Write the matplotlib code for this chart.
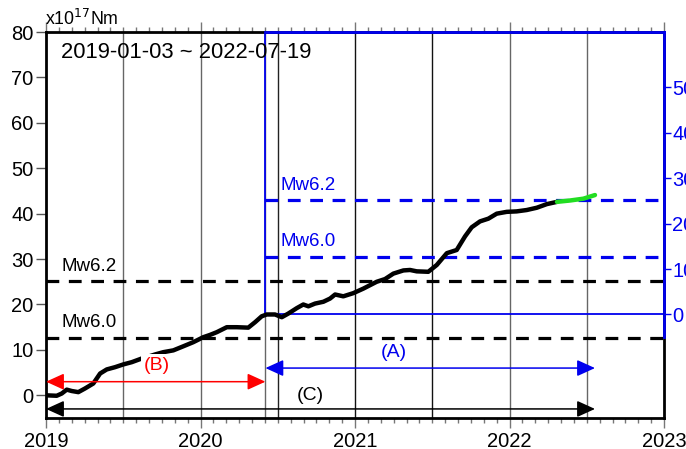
import matplotlib
matplotlib.use("Agg")
import matplotlib.pyplot as plt
import numpy as np

plt.rcParams['font.family'] = ['Liberation Sans', 'DejaVu Sans']

# Cumulative seismic moment (x10^17 Nm) against decimal year
years = [2019.000, 2019.069, 2019.102, 2019.134, 2019.166, 2019.209, 2019.252,
         2019.306, 2019.350, 2019.393, 2019.447, 2019.500, 2019.555, 2019.619,
         2019.660, 2019.706, 2019.759, 2019.824, 2019.889, 2019.953, 2020.018,
         2020.061, 2020.105, 2020.170, 2020.234, 2020.309, 2020.353, 2020.396,
         2020.428, 2020.482, 2020.526, 2020.568, 2020.623, 2020.665, 2020.698,
         2020.741, 2020.795, 2020.838, 2020.871, 2020.924, 2020.989, 2021.054,
         2021.140, 2021.194, 2021.248, 2021.313, 2021.356, 2021.399, 2021.474,
         2021.529, 2021.594, 2021.658, 2021.712, 2021.755, 2021.809, 2021.863,
         2021.917, 2021.982, 2022.046, 2022.111, 2022.176, 2022.241, 2022.307]
moment = [0.0, -0.1, 0.4, 1.25, 0.95, 0.7, 1.5,
          2.6, 4.8, 5.7, 6.2, 6.8, 7.3, 8.1,
          8.5, 9.0, 9.5, 9.9, 10.8, 11.7, 12.8,
          13.3, 13.9, 15.0, 15.0, 14.9, 16.1, 17.4,
          17.8, 17.8, 17.2, 18.0, 19.2, 20.0, 19.6,
          20.2, 20.6, 21.3, 22.2, 21.8, 22.5, 23.5,
          25.0, 25.6, 26.8, 27.5, 27.6, 27.3, 27.2,
          28.7, 31.3, 32.0, 35.0, 37.0, 38.3, 38.9,
          40.0, 40.4, 40.5, 40.8, 41.3, 42.1, 42.6]

# Most recent segment, drawn in green
recent_years = [2022.307, 2022.392, 2022.478, 2022.553]
recent_moment = [42.6, 42.9, 43.3, 44.1]

# Reference moments for Mw 6.0 / 6.2 (x10^17 Nm)
mw_labels = ['Mw6.0', 'Mw6.2']
mw_moment = [12.6, 25.1]

# Start of period (A) and moment accumulated up to it
start_a = 2020.42
base_a = 17.8
end_all = 2022.553

period_text = '2019-01-03 ~ 2022-07-19'
year_ticks = [2019, 2020, 2021, 2022, 2023]
left_ticks = [0, 10, 20, 30, 40, 50, 60, 70, 80]
right_ticks = [0, 10, 20, 30, 40, 50]
half_year_lines = [2019.5, 2020.0, 2020.5, 2021.0, 2021.5, 2022.0, 2022.5]
half_year_colors = ['#666666', '#666666', '#222222', '#111111', '#111111', '#666666', '#666666']

ymin, ymax = -5, 80
BLUE = '#0000ee'

fig = plt.figure(figsize=(6.86, 4.49), dpi=100)
ax = fig.add_axes([0.0671, 0.069, 0.9009, 0.8597])
ax.set_xlim(2019, 2023)
ax.set_ylim(ymin, ymax)

# vertical markers
for xv, c in zip(half_year_lines, half_year_colors):
    ax.axvline(xv, color=c, lw=1.0, zorder=1)
ax.axvline(start_a, color='#666666', lw=1.0, zorder=1)

# Mw reference lines (whole period)
for lab, m in zip(mw_labels, mw_moment):
    ax.plot([2019, 2023], [m, m], color='black', lw=2.3, ls=(0, (4, 3)), zorder=2)
    ax.text(2019.1, m + 1.5, lab, fontsize=13.5, color='black', va='bottom', ha='left')

# Mw reference lines relative to start of (A)
ax.plot([start_a, 2023], [base_a, base_a], color=BLUE, lw=1.3, zorder=2)
ax.plot([start_a, start_a], [base_a, ymax], color=BLUE, lw=1.3, zorder=2)
for lab, m in zip(mw_labels, mw_moment):
    ax.plot([start_a, 2023], [base_a + m, base_a + m], color=BLUE, lw=2.3,
            ls=(0, (4, 3)), zorder=2)
    ax.text(start_a + 0.1, base_a + m + 1.5, lab, fontsize=13.5, color=BLUE,
            va='bottom', ha='left')

# cumulative curve
ax.plot(years, moment, color='black', lw=3.2, solid_capstyle='round', zorder=4)
ax.plot(recent_years, recent_moment, color='#22dd22', lw=3.2,
        solid_capstyle='round', zorder=4)

# period arrows
def period_arrow(x0, x1, y, color, label, lx, ly):
    ax.annotate('', xy=(x1, y), xytext=(x0, y),
                arrowprops=dict(arrowstyle='<|-|>,head_length=1.1,head_width=0.5',
                                color=color, lw=1.1, shrinkA=0, shrinkB=0,
                                mutation_scale=10),
                zorder=5)
    ax.text(lx, ly, label, color=color, fontsize=14, ha='center', va='center',
            zorder=6, bbox=dict(boxstyle='square,pad=0.15', fc='white', ec='none'))

period_arrow(2019.0, start_a, 3.0, '#ff0000', '(B)', 2019.72, 6.5)
period_arrow(start_a, end_all, 6.0, BLUE, '(A)', 2021.25, 9.5)
period_arrow(2019.0, end_all, -3.0, 'black', '(C)', 2020.71, 0.0)

ax.text(2019.1, 75.5, period_text, fontsize=15.8, ha='left', va='center', zorder=6)
fig.text(0.066, 0.935, r'x10$^{17}$Nm', fontsize=12.8, ha='left', va='bottom')

# main axis ticks
ax.set_xticks(year_ticks)
ax.set_xticklabels([str(y) for y in year_ticks])
ax.set_xticks(np.arange(2019, 2023, 1 / 12), minor=True)
ax.set_yticks(left_ticks)
ax.tick_params(axis='x', which='major', direction='out', length=7, width=1,
               color='#777777', top=True, labelsize=14.5, pad=3)
ax.tick_params(axis='x', which='minor', direction='out', length=3.5, width=1,
               color='#777777', top=True)
ax.tick_params(axis='y', which='major', direction='out', length=7, width=1,
               color='#555555', right=True, labelsize=14.5, pad=2)
for s in ax.spines.values():
    s.set_linewidth(2)
    s.set_color('black')

# relative axis for (A)
ax2 = ax.twinx()
ax2.set_ylim(ymin - base_a, ymax - base_a)
ax2.set_yticks(right_ticks)
ax2.tick_params(axis='y', direction='out', length=5, width=1, colors=BLUE,
                labelsize=14.5, pad=1)
ax2.spines['left'].set_visible(False)
ax2.spines['bottom'].set_visible(False)
ax2.spines['right'].set_color(BLUE)
ax2.spines['right'].set_linewidth(2)
ax2.spines['right'].set_bounds(-5, ymax - base_a)
ax2.spines['top'].set_color(BLUE)
ax2.spines['top'].set_linewidth(2)
ax2.spines['top'].set_bounds(start_a, 2023)

fig.savefig('out.png', dpi=100)
